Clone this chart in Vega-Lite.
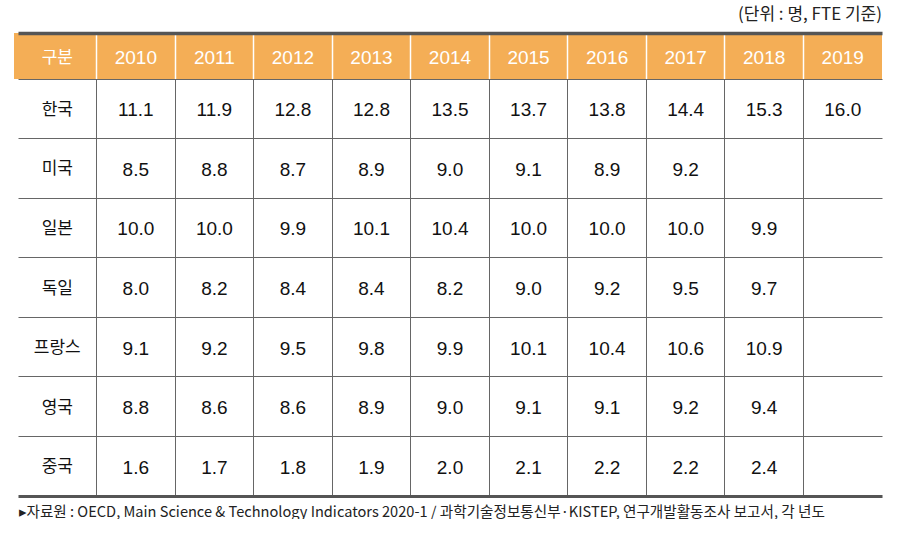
{
  "$schema": "https://vega.github.io/schema/vega-lite/v6.json",
  "padding": {"left": 14, "right": 19, "top": 6, "bottom": 0},
  "background": "white",
  "title": {"text": "(단위 : 명, FTE 기준)", "anchor": "end", "fontSize": 17, "fontWeight": "normal", "font": "Noto Sans CJK KR, sans-serif", "color": "#222", "offset": 9},
  "spacing": 0,
  "config": {"view": {"stroke": null}, "concat": {"spacing": 0}},
  "datasets": {
    "header": [
      {"열": "구분"}, {"열": "2010"}, {"열": "2011"}, {"열": "2012"}, {"열": "2013"}, {"열": "2014"},
      {"열": "2015"}, {"열": "2016"}, {"열": "2017"}, {"열": "2018"}, {"열": "2019"}
    ],
    "countries": [
      {"국가": "한국"}, {"국가": "미국"}, {"국가": "일본"}, {"국가": "독일"}, {"국가": "프랑스"}, {"국가": "영국"}, {"국가": "중국"}
    ],
    "body": [
      {"국가": "한국", "연도": "2010", "값": 11.1}, {"국가": "한국", "연도": "2011", "값": 11.9}, {"국가": "한국", "연도": "2012", "값": 12.8}, {"국가": "한국", "연도": "2013", "값": 12.8}, {"국가": "한국", "연도": "2014", "값": 13.5}, {"국가": "한국", "연도": "2015", "값": 13.7}, {"국가": "한국", "연도": "2016", "값": 13.8}, {"국가": "한국", "연도": "2017", "값": 14.4}, {"국가": "한국", "연도": "2018", "값": 15.3}, {"국가": "한국", "연도": "2019", "값": 16.0},
      {"국가": "미국", "연도": "2010", "값": 8.5}, {"국가": "미국", "연도": "2011", "값": 8.8}, {"국가": "미국", "연도": "2012", "값": 8.7}, {"국가": "미국", "연도": "2013", "값": 8.9}, {"국가": "미국", "연도": "2014", "값": 9.0}, {"국가": "미국", "연도": "2015", "값": 9.1}, {"국가": "미국", "연도": "2016", "값": 8.9}, {"국가": "미국", "연도": "2017", "값": 9.2},
      {"국가": "일본", "연도": "2010", "값": 10.0}, {"국가": "일본", "연도": "2011", "값": 10.0}, {"국가": "일본", "연도": "2012", "값": 9.9}, {"국가": "일본", "연도": "2013", "값": 10.1}, {"국가": "일본", "연도": "2014", "값": 10.4}, {"국가": "일본", "연도": "2015", "값": 10.0}, {"국가": "일본", "연도": "2016", "값": 10.0}, {"국가": "일본", "연도": "2017", "값": 10.0}, {"국가": "일본", "연도": "2018", "값": 9.9},
      {"국가": "독일", "연도": "2010", "값": 8.0}, {"국가": "독일", "연도": "2011", "값": 8.2}, {"국가": "독일", "연도": "2012", "값": 8.4}, {"국가": "독일", "연도": "2013", "값": 8.4}, {"국가": "독일", "연도": "2014", "값": 8.2}, {"국가": "독일", "연도": "2015", "값": 9.0}, {"국가": "독일", "연도": "2016", "값": 9.2}, {"국가": "독일", "연도": "2017", "값": 9.5}, {"국가": "독일", "연도": "2018", "값": 9.7},
      {"국가": "프랑스", "연도": "2010", "값": 9.1}, {"국가": "프랑스", "연도": "2011", "값": 9.2}, {"국가": "프랑스", "연도": "2012", "값": 9.5}, {"국가": "프랑스", "연도": "2013", "값": 9.8}, {"국가": "프랑스", "연도": "2014", "값": 9.9}, {"국가": "프랑스", "연도": "2015", "값": 10.1}, {"국가": "프랑스", "연도": "2016", "값": 10.4}, {"국가": "프랑스", "연도": "2017", "값": 10.6}, {"국가": "프랑스", "연도": "2018", "값": 10.9},
      {"국가": "영국", "연도": "2010", "값": 8.8}, {"국가": "영국", "연도": "2011", "값": 8.6}, {"국가": "영국", "연도": "2012", "값": 8.6}, {"국가": "영국", "연도": "2013", "값": 8.9}, {"국가": "영국", "연도": "2014", "값": 9.0}, {"국가": "영국", "연도": "2015", "값": 9.1}, {"국가": "영국", "연도": "2016", "값": 9.1}, {"국가": "영국", "연도": "2017", "값": 9.2}, {"국가": "영국", "연도": "2018", "값": 9.4},
      {"국가": "중국", "연도": "2010", "값": 1.6}, {"국가": "중국", "연도": "2011", "값": 1.7}, {"국가": "중국", "연도": "2012", "값": 1.8}, {"국가": "중국", "연도": "2013", "값": 1.9}, {"국가": "중국", "연도": "2014", "값": 2.0}, {"국가": "중국", "연도": "2015", "값": 2.1}, {"국가": "중국", "연도": "2016", "값": 2.2}, {"국가": "중국", "연도": "2017", "값": 2.2}, {"국가": "중국", "연도": "2018", "값": 2.4}
    ]
  },
  "vconcat": [
    {
      "width": 868,
      "height": 46,
      "view": {"fill": "#F4AE56", "stroke": null},
      "data": {"name": "header"},
      "mark": {"type": "text", "color": "white", "baseline": "middle", "align": "center", "dy": 2, "font": "Liberation Sans, Noto Sans CJK KR, sans-serif"},
      "encoding": {
        "x": {
          "field": "열", "type": "nominal", "sort": null,
          "scale": {"type": "band", "domain": ["구분", "2010", "2011", "2012", "2013", "2014", "2015", "2016", "2017", "2018", "2019"], "range": [4, 868], "paddingInner": 0, "paddingOuter": 0},
          "axis": {"orient": "top", "title": null, "labels": false, "ticks": false, "domainColor": "#555", "domainWidth": 3.5, "grid": true, "bandPosition": 0, "gridWidth": 1.5,
            "gridColor": {"condition": {"test": "datum.value === '구분'", "value": "transparent"}, "value": "white"}}
        },
        "text": {"field": "열"},
        "size": {"condition": {"test": "datum['열'] === '구분'", "value": 17}, "value": 19}
      }
    },
    {
      "width": 868,
      "height": 417,
      "layer": [
        {
          "data": {"name": "body"},
          "mark": {"type": "text", "color": "#111", "fontSize": 19, "baseline": "middle", "align": "center", "dy": 1.5, "font": "Liberation Sans, Noto Sans CJK KR, sans-serif"},
          "encoding": {
            "x": {
              "field": "연도", "type": "nominal",
              "scale": {"type": "band", "domain": ["구분", "2010", "2011", "2012", "2013", "2014", "2015", "2016", "2017", "2018", "2019"], "range": [4, 868], "paddingInner": 0, "paddingOuter": 0},
              "axis": {"orient": "bottom", "title": "▸자료원 : OECD, Main Science & Technology Indicators 2020-1 / 과학기술정보통신부·KISTEP, 연구개발활동조사 보고서, 각 년도",
                "titleAnchor": "start", "titleAlign": "left", "titleFontSize": 14.6, "titleFontWeight": "normal", "titleColor": "#222", "titlePadding": 8,
                "titleFont": "Noto Sans CJK KR, sans-serif",
                "labels": false, "ticks": false, "domainColor": "#555", "domainWidth": 3, "grid": true, "bandPosition": 0, "gridWidth": 1,
                "gridColor": {"condition": {"test": "datum.value === '구분'", "value": "transparent"}, "value": "#666"}}
            },
            "y": {
              "field": "국가", "type": "nominal",
              "scale": {"type": "band", "domain": ["한국", "미국", "일본", "독일", "프랑스", "영국", "중국"], "paddingInner": 0, "paddingOuter": 0},
              "axis": {"title": null, "labels": false, "ticks": false, "domain": false, "grid": true, "bandPosition": 0, "gridColor": "#666", "gridWidth": 1}
            },
            "text": {"field": "값", "type": "quantitative", "format": ".1f"}
          }
        },
        {
          "data": {"name": "countries"},
          "mark": {"type": "text", "color": "#111", "fontSize": 17, "baseline": "middle", "align": "center", "dy": 1, "font": "Noto Sans CJK KR, sans-serif"},
          "encoding": {
            "x": {"datum": "구분", "type": "nominal"},
            "y": {"field": "국가", "type": "nominal"},
            "text": {"field": "국가"}
          }
        }
      ]
    }
  ]
}
